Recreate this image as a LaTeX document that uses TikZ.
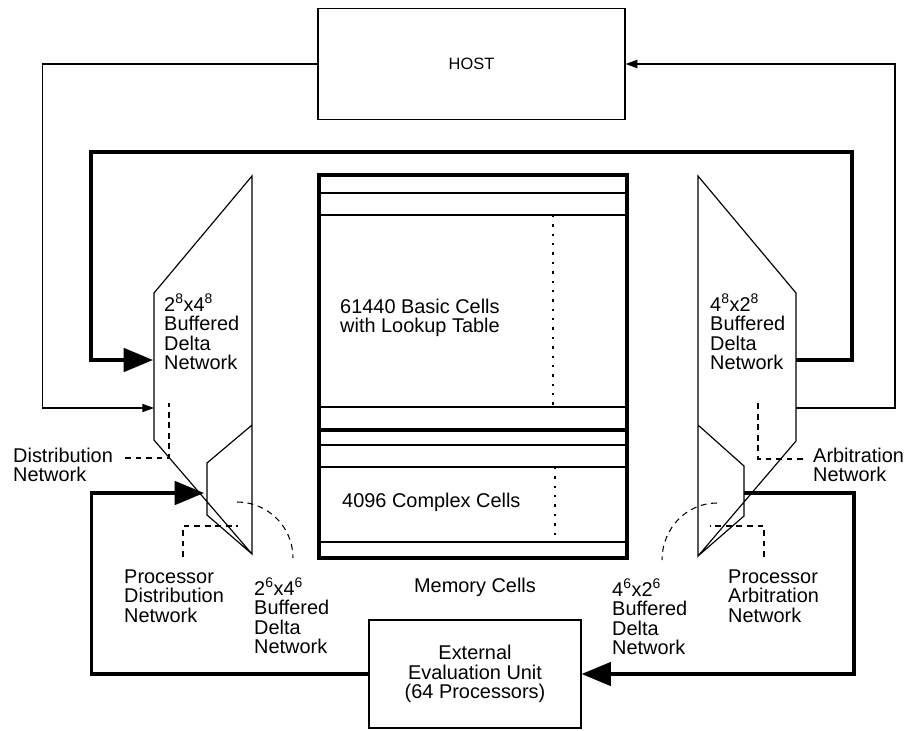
\documentclass[tikz,border=0pt]{standalone}
\usepackage{fontspec}
\setmainfont{Liberation Sans}
\usetikzlibrary{arrows.meta}
\tikzset{
	thinline/.style={line width=1pt},
	heavy/.style={line width=2.8pt},
	leader/.style={line width=0.9pt,dash pattern=on 5pt off 4pt},
	dots/.style={line width=0.9pt,dash pattern=on 2pt off 6pt},
	bigtip/.style={-{Triangle[length=25pt,width=20pt]}},
	smalltip/.style={-{Triangle[length=10pt,width=7pt]}},
	lbl/.style={align=left,inner sep=0pt,anchor=west},
}

\begin{document}
\begin{tikzpicture}[x=0.03cm,y=-0.03cm,font=\fontsize{17}{16.6}\selectfont,line join=miter]
	\useasboundingbox (0,0) rectangle (906,730);
	\path
	(252,176) coordinate (A1)
	(154,293) coordinate (A2)
	(154,440) coordinate (A3)
	(252,554) coordinate (A4)
	(252,425) coordinate (B1)
	(207,463) coordinate (B2)
	(207,515) coordinate (B3)
	(698,176) coordinate (C1)
	(796,293) coordinate (C2)
	(796,441) coordinate (C3)
	(698,556) coordinate (C4)
	(698,425) coordinate (D1)
	(744,466) coordinate (D2)
	(744,516) coordinate (D3)
	(319,175) coordinate (M1)
	(627,558) coordinate (M2)
	(153,360) coordinate (Ltop)
	(796,360) coordinate (Rtop)
	(154,408) coordinate (Lin)
	(796,408) coordinate (Rout)
	(204,493) coordinate (Lproc)
	(744,493) coordinate (Rproc)
	(852,152) coordinate (TR)
	(91,152) coordinate (TL)
	;
	\node[draw,thinline,minimum width=9.21cm,minimum height=3.33cm,font=\fontsize{14}{15}\selectfont] (host) at (471.5,64) {HOST};
	\node[draw,thinline,minimum width=6.36cm,minimum height=3.24cm,align=center] (eeu) at (475,674) {External\\Evaluation Unit\\(64 Processors)};
	\draw[thinline]
	(A1)--(A2)--(A3)--(A4)--cycle
	(B1)--(B2)--(B3)--(A4)
	(C1)--(C2)--(C3)--(C4)--cycle
	(D1)--(D2)--(D3)--(C4);
	\draw[heavy] (M1) rectangle (M2);
	\draw[heavy] (319,430) -- (627,430);
	\foreach \y in {193,215,407,445,467,542}
		\draw[thinline] (319,\y) -- (627,\y);
	\draw[dots] (553,215) -- (553,407) (555,467) -- (555,542);
	\node[lbl] (basic) at (340,318) {61440 Basic Cells\\with Lookup Table};
	\node[lbl] (complex) at (342,502) {4096 Complex Cells};
	\node (mem) at (475,587) {Memory Cells};
	\node[lbl] (bdnl) at (164,332) {2\textsuperscript{8}x4\textsuperscript{8}\\Buffered\\Delta\\Network};
	\node[lbl] (bdnr) at (710,332) {4\textsuperscript{8}x2\textsuperscript{8}\\Buffered\\Delta\\Network};
	\node[lbl] (distn) at (13,465) {Distribution\\Network};
	\node[lbl] (arbn) at (813,465) {Arbitration\\Network};
	\node[lbl] (pdist) at (124,596) {Processor\\Distribution\\Network};
	\node[lbl] (parb) at (728,596) {Processor\\Arbitration\\Network};
	\node[lbl] (sbdnl) at (254,616) {2\textsuperscript{6}x4\textsuperscript{6}\\Buffered\\Delta\\Network};
	\node[lbl] (sbdnr) at (612,617) {4\textsuperscript{6}x2\textsuperscript{6}\\Buffered\\Delta\\Network};
	\draw[thinline,smalltip] (host.west) -- ++(-275,0) |- (Lin);
	\draw[thinline,smalltip] (Rout) -- ++(99,0) |- (host.east);
	\draw[heavy,bigtip] (Rtop) -| (TR) -- (TL) |- (Ltop);
	\draw[heavy,bigtip] (eeu.west) -- ++(-277,0) |- (Lproc);
	\draw[heavy,bigtip] (Rproc) -- ++(110,0) |- (eeu.east);
	\draw[leader] (125,458) -| (169,403);
	\draw[leader] (183,557) |- (238,526);
	\draw[leader] (237,502) .. controls (268,502) and (293,527) .. (293,558);
	\draw[leader] (803,459) -| (758,403);
	\draw[leader] (764,557) |- (710,526);
	\draw[leader] (717,503) .. controls (686,503) and (662,529) .. (662,560);
\end{tikzpicture}
\end{document}
